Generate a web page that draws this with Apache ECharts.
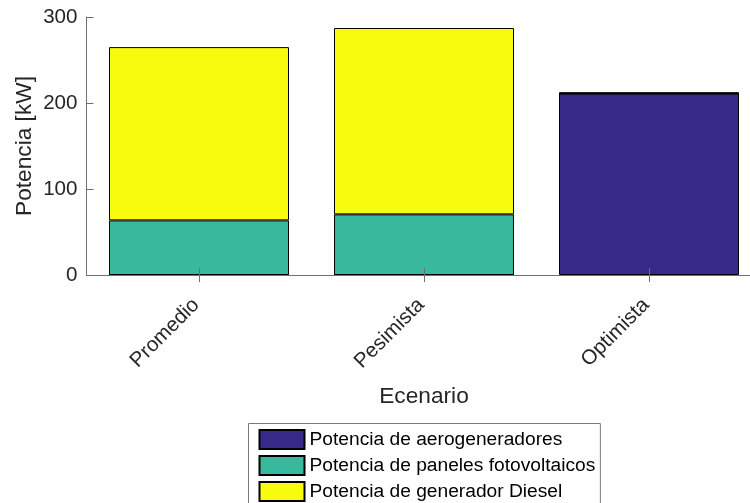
<!DOCTYPE html>
<html>
<head>
<meta charset="utf-8">
<script src="https://cdn.jsdelivr.net/npm/echarts@6/dist/echarts.min.js"></script>
<style>
  html, body { margin: 0; padding: 0; background: #fff; overflow: hidden; }
  /* the axes box and the legend run past the window edges and are cut off there */
  #chart { width: 780px; height: 540px; }
</style>
</head>
<body>
<div id="chart"></div>
<script>
// Scenarios and installed power per source (kW)
const escenarios = ['Promedio', 'Pesimista', 'Optimista'];
const aerogeneradores = [0, 0, 211];
const fotovoltaicos = [63.5, 70.5, 0];
const diesel = [201.5, 216.7, 1.5];
const yTicks = [0, 100, 200, 300];

const seriesNames = [
  'Potencia de aerogeneradores',
  'Potencia de paneles fotovoltaicos',
  'Potencia de generador Diesel'
];
const colores = ['#352A87', '#38B99E', '#F9FB0E'];
const valores = [aerogeneradores, fotovoltaicos, diesel];

const FONT = 'Liberation Sans, Arial, Helvetica, sans-serif';
const AXIS_GRAY = '#707070';
const TEXT = '#262626';
const TICK_FS = 20.6;
const TITLE_FS = 22.7;
const LEGEND_FS = 19.2;

const chart = echarts.init(document.getElementById('chart'), null, { renderer: 'canvas' });

chart.setOption({
  animation: false,
  backgroundColor: '#ffffff',
  textStyle: { fontFamily: FONT },
  grid: { left: 86.5, top: 17, width: 675, height: 258, containLabel: false },
  legend: {
    orient: 'vertical',
    left: 248.5,
    top: 423.5,
    itemWidth: 45,
    itemHeight: 19,
    itemGap: 5,
    padding: [5.5, 5, 5, 10],
    borderColor: '#7a7a7a',
    borderWidth: 1,
    backgroundColor: '#fff',
    icon: 'rect',
    textStyle: { fontFamily: FONT, fontSize: LEGEND_FS, color: '#000' },
    data: seriesNames
  },
  xAxis: [
    {
      type: 'category',
      data: escenarios,
      position: 'bottom',
      boundaryGap: true,
      name: 'Ecenario',
      nameLocation: 'middle',
      nameGap: 110,
      nameMoveOverlap: false,
      nameTextStyle: { fontFamily: FONT, fontSize: TITLE_FS, color: TEXT },
      axisLine: { show: true, lineStyle: { color: AXIS_GRAY, width: 1 } },
      axisTick: { show: true, inside: true, alignWithLabel: true, length: 7, lineStyle: { color: AXIS_GRAY } },
      axisLabel: { rotate: 45, margin: 24, fontSize: TICK_FS, color: TEXT, fontFamily: FONT, padding: [0, 4, 0, 0] },
      splitLine: { show: false },
      z: 5
    },
    {
      type: 'category',
      data: escenarios,
      position: 'top',
      boundaryGap: true,
      axisLine: { show: true, lineStyle: { color: AXIS_GRAY, width: 1 } },
      axisTick: { show: true, inside: true, alignWithLabel: true, length: 7, lineStyle: { color: AXIS_GRAY } },
      axisLabel: { show: false },
      splitLine: { show: false }
    }
  ],
  yAxis: [
    {
      type: 'value',
      min: yTicks[0],
      max: yTicks[yTicks.length - 1],
      interval: 100,
      position: 'left',
      name: 'Potencia [kW]',
      nameLocation: 'middle',
      nameGap: 50,
      nameMoveOverlap: false,
      nameRotate: 90,
      nameTextStyle: { fontFamily: FONT, fontSize: TITLE_FS, color: TEXT },
      axisLine: { show: true, lineStyle: { color: AXIS_GRAY, width: 1 } },
      axisTick: { show: true, inside: true, length: 7, lineStyle: { color: AXIS_GRAY } },
      axisLabel: { margin: 9, fontSize: TICK_FS, color: TEXT, fontFamily: FONT },
      splitLine: { show: false }
    },
    {
      type: 'value',
      min: yTicks[0],
      max: yTicks[yTicks.length - 1],
      interval: 100,
      position: 'right',
      axisLine: { show: true, lineStyle: { color: AXIS_GRAY, width: 1 } },
      axisTick: { show: true, inside: true, length: 7, lineStyle: { color: AXIS_GRAY } },
      axisLabel: { show: false },
      splitLine: { show: false }
    }
  ],
  series: seriesNames.map((name, i) => ({
    name: name,
    type: 'bar',
    stack: 'total',
    barWidth: '80%',
    data: valores[i],
    itemStyle: { color: colores[i], borderColor: '#000', borderWidth: 1 }
  }))
});
</script>
</body>
</html>
